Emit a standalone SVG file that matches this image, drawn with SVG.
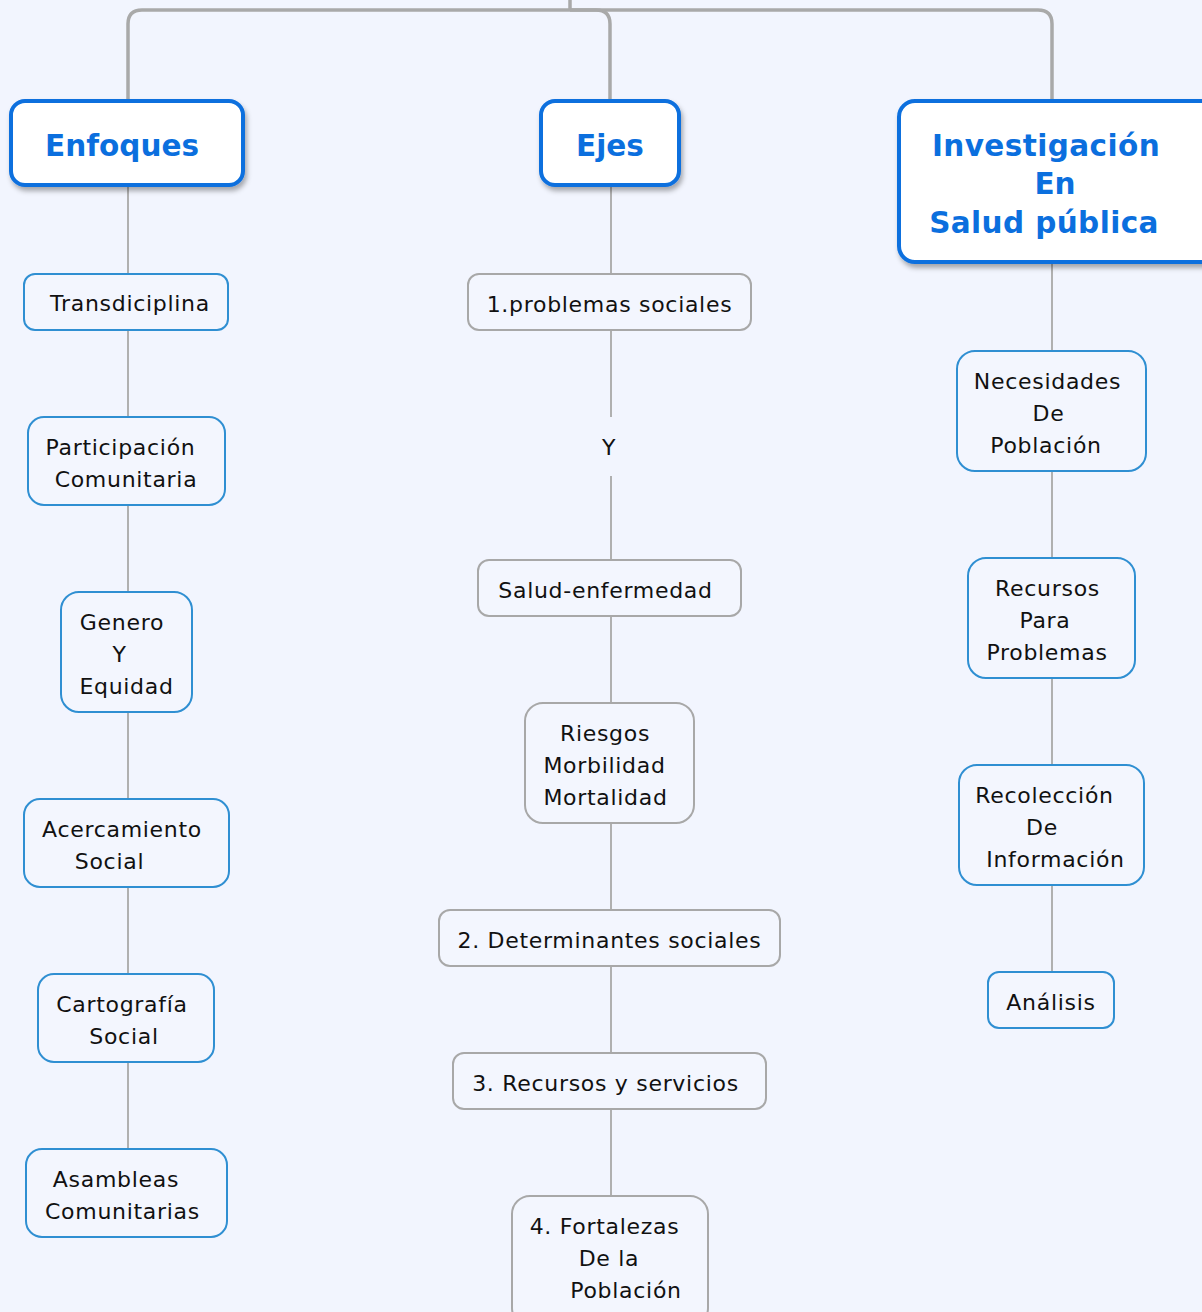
<svg xmlns="http://www.w3.org/2000/svg" width="1202" height="1312" viewBox="0 0 1202 1312">
<defs>
<filter id="sh" x="-10%" y="-10%" width="130%" height="140%">
<feDropShadow dx="2" dy="4" stdDeviation="2.5" flood-color="#000" flood-opacity="0.32"/>
</filter>
<style>
.hdr{fill:#fff;stroke:#0b6fde;stroke-width:4}
.ht{font-family:"DejaVu Sans",Verdana,sans-serif;font-weight:bold;font-size:29.5px;fill:#0b6fde;text-anchor:middle}
.bn{fill:#f3f6fe;stroke:#2f8fd2;stroke-width:2}
.gn{fill:#f3f6fe;stroke:#a8a8a8;stroke-width:2}
.t{font-family:"DejaVu Sans",Verdana,sans-serif;font-size:22px;letter-spacing:0.7px;fill:#111;text-anchor:middle}
.top{fill:none;stroke:#a9a9a9;stroke-width:3.5}
.ln{fill:none;stroke:#b0b0b0;stroke-width:2}
</style>
</defs>
<rect width="1202" height="1312" fill="#f2f5fe"/>
<g id="connectors">
<path class="top" d="M570,0 V10"/>
<path class="top" d="M570,10 H142 Q128,10 128,24 V100"/>
<path class="top" d="M570,10 H596 Q610,10 610,24 V100"/>
<path class="top" d="M570,10 H1038 Q1052,10 1052,24 V100"/>
<path class="ln" d="M128,186 V274 M128,330 V417 M128,505 V592 M128,712 V799 M128,887 V974 M128,1062 V1149"/>
<path class="ln" d="M611,186 V274 M611,330 V417 M611,476 V560 M611,616 V703 M611,823 V910 M611,966 V1053 M611,1109 V1196"/>
<path class="ln" d="M1052,263 V351 M1052,471 V558 M1052,678 V765 M1052,885 V972"/>
</g>
<g id="enfoques">
<rect class="hdr" x="11" y="101" width="232" height="84" rx="14" filter="url(#sh)"/>
<text class="ht" x="122" y="156">Enfoques</text>
</g>
<g id="ejes">
<rect class="hdr" x="541" y="101" width="138" height="84" rx="14" filter="url(#sh)"/>
<text class="ht" x="610" y="156">Ejes</text>
</g>
<g id="investigacion">
<rect class="hdr" x="899" y="101" width="320" height="161" rx="16" filter="url(#sh)"/>
<text class="ht" x="1046" y="156" letter-spacing="0.4">Investigación</text>
<text class="ht" x="1055" y="194">En</text>
<text class="ht" x="1044" y="233" letter-spacing="0.4">Salud pública</text>
</g>
<g id="transdiciplina">
<rect class="bn" x="24" y="274" width="204" height="56" rx="11"/>
<text class="t" x="130" y="311">Transdiciplina</text>
</g>
<g id="participacion">
<rect class="bn" x="28" y="417" width="197" height="88" rx="16"/>
<text class="t" x="120.5" y="455">Participación</text>
<text class="t" x="126" y="487">Comunitaria</text>
</g>
<g id="genero">
<rect class="bn" x="61" y="592" width="131" height="120" rx="18"/>
<text class="t" x="122" y="630">Genero</text>
<text class="t" x="119.5" y="662">Y</text>
<text class="t" x="126.5" y="694">Equidad</text>
</g>
<g id="acercamiento">
<rect class="bn" x="24" y="799" width="205" height="88" rx="16"/>
<text class="t" x="122" y="837">Acercamiento</text>
<text class="t" x="109.5" y="869">Social</text>
</g>
<g id="cartografia">
<rect class="bn" x="38" y="974" width="176" height="88" rx="16"/>
<text class="t" x="122" y="1012">Cartografía</text>
<text class="t" x="124" y="1044">Social</text>
</g>
<g id="asambleas">
<rect class="bn" x="26" y="1149" width="201" height="88" rx="16"/>
<text class="t" x="116" y="1187">Asambleas</text>
<text class="t" x="122.5" y="1219">Comunitarias</text>
</g>
<g id="problemas">
<rect class="gn" x="468" y="274" width="283" height="56" rx="11"/>
<text class="t" x="609.5" y="312">1.problemas sociales</text>
</g>
<g id="y-label">
<text class="t" x="609" y="455">Y</text>
</g>
<g id="salud">
<rect class="gn" x="478" y="560" width="263" height="56" rx="11"/>
<text class="t" x="605.5" y="598">Salud-enfermedad</text>
</g>
<g id="riesgos">
<rect class="gn" x="525" y="703" width="169" height="120" rx="18"/>
<text class="t" x="605" y="741">Riesgos</text>
<text class="t" x="604.5" y="773">Morbilidad</text>
<text class="t" x="605.5" y="805">Mortalidad</text>
</g>
<g id="determinantes">
<rect class="gn" x="439" y="910" width="341" height="56" rx="11"/>
<text class="t" x="609.5" y="948">2. Determinantes sociales</text>
</g>
<g id="recursos-servicios">
<rect class="gn" x="453" y="1053" width="313" height="56" rx="11"/>
<text class="t" x="605.5" y="1091">3. Recursos y servicios</text>
</g>
<g id="fortalezas">
<rect class="gn" x="512" y="1196" width="196" height="130" rx="18"/>
<text class="t" x="604.5" y="1234">4. Fortalezas</text>
<text class="t" x="609" y="1266">De la</text>
<text class="t" x="626" y="1298">Población</text>
</g>
<g id="necesidades">
<rect class="bn" x="957" y="351" width="189" height="120" rx="18"/>
<text class="t" x="1047.5" y="389">Necesidades</text>
<text class="t" x="1048.5" y="421">De</text>
<text class="t" x="1046" y="453">Población</text>
</g>
<g id="recursos-problemas">
<rect class="bn" x="968" y="558" width="167" height="120" rx="18"/>
<text class="t" x="1047.5" y="596">Recursos</text>
<text class="t" x="1045" y="628">Para</text>
<text class="t" x="1047" y="660">Problemas</text>
</g>
<g id="recoleccion">
<rect class="bn" x="959" y="765" width="185" height="120" rx="18"/>
<text class="t" x="1044.5" y="803">Recolección</text>
<text class="t" x="1042" y="835">De</text>
<text class="t" x="1055.5" y="867">Información</text>
</g>
<g id="analisis">
<rect class="bn" x="988" y="972" width="126" height="56" rx="11"/>
<text class="t" x="1051" y="1010">Análisis</text>
</g>
</svg>
